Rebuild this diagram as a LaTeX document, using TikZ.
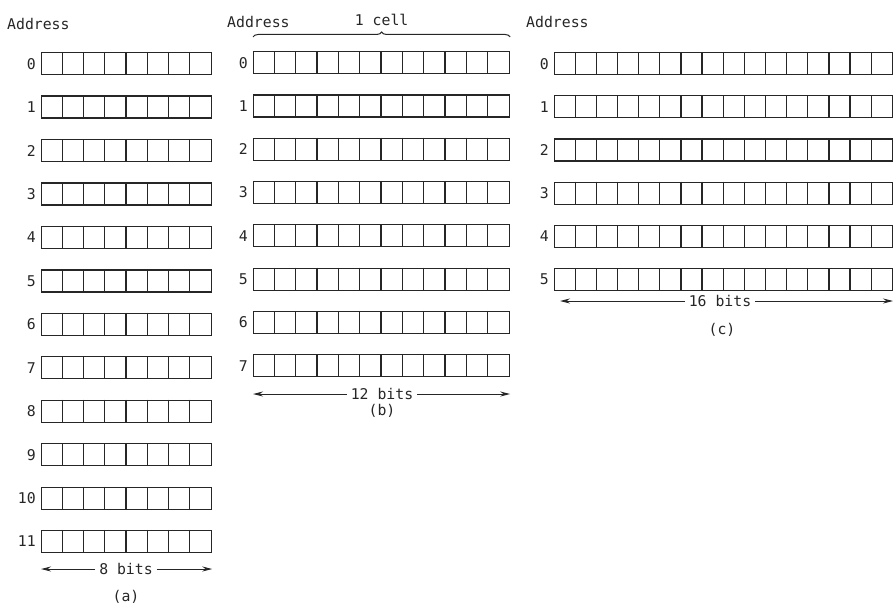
\documentclass[tikz,border=0pt]{standalone}
\usepackage{fontspec}
\setmonofont{DejaVu Sans Mono}
\usetikzlibrary{decorations.pathreplacing,arrows.meta}
\tikzset{
  ink/.style={draw=black!85, line width=1.25pt},
  lbl/.style={font=\ttfamily\fontsize{14.8}{17}\selectfont, text=black!85, inner sep=0pt},
  dimarrow/.style={draw=black!85, line width=1pt, -{Stealth[length=10pt,width=5pt]}},
}
\newcommand\memrow[6]{% name, x, y, ncells, cellw, label
  \node[ink, anchor=north west, minimum width=#4*#5pt, minimum height=22pt, inner sep=0pt] (#1) at (#2,#3) {};
  \foreach \k in {1,...,\numexpr#4-1\relax}{\draw[ink] ([xshift=\k*#5pt]#1.north west) -- ([xshift=\k*#5pt]#1.south west);}
  \node[lbl, anchor=east] (#1l) at ([xshift=-5pt]#1.west) {#6};
}
\begin{document}
\begin{tikzpicture}[x=1pt,y=-1pt]
\useasboundingbox (0,0) rectangle (893,607);
% (a)
\node[lbl, anchor=west] (addra) at (7,24) {Address};
\foreach \i in {0,...,11}{\memrow{a\i}{41}{52+\i*43.45}{8}{21.25}{\i}}
\node[lbl] (abits) at (126,569) {8 bits};
\coordinate (aL) at (a11.west |- abits);
\coordinate (aR) at (a11.east |- abits);
\draw[dimarrow] (abits.west) ++(-4,0) -- (aL);
\draw[dimarrow] (abits.east) ++(4,0) -- (aR);
\node[lbl] (acap) at (126,597) {(a)};
% (b)
\node[lbl, anchor=west] (addrb) at (227,22) {Address};
\foreach \i in {0,...,7}{\memrow{b\i}{253}{51+\i*43.3}{12}{21.33}{\i}}
\draw[ink, line width=1pt, decorate, decoration={brace, amplitude=5pt}] ([yshift=14pt]b0.north west) -- ([yshift=14pt]b0.north east) node[midway, above=11pt, lbl] (cell) {1 cell};
\node[lbl] (bbits) at (382,394) {12 bits};
\coordinate (bL) at (b7.west |- bbits);
\coordinate (bR) at (b7.east |- bbits);
\draw[dimarrow] (bbits.west) ++(-4,0) -- (bL);
\draw[dimarrow] (bbits.east) ++(4,0) -- (bR);
\node[lbl] (bcap) at (382,411) {(b)};
% (c)
\node[lbl, anchor=west] (addrc) at (526,22) {Address};
\foreach \i in {0,...,5}{\memrow{c\i}{554}{52+\i*43.2}{16}{21.15}{\i}}
\node[lbl] (cbits) at (720,301) {16 bits};
\coordinate (cL) at (560,301);
\coordinate (cR) at (893,301);
\draw[dimarrow] (cbits.west) ++(-4,0) -- (cL);
\draw[dimarrow] (cbits.east) ++(4,0) -- (cR);
\node[lbl] (ccap) at (722,330) {(c)};
\end{tikzpicture}
\end{document}
